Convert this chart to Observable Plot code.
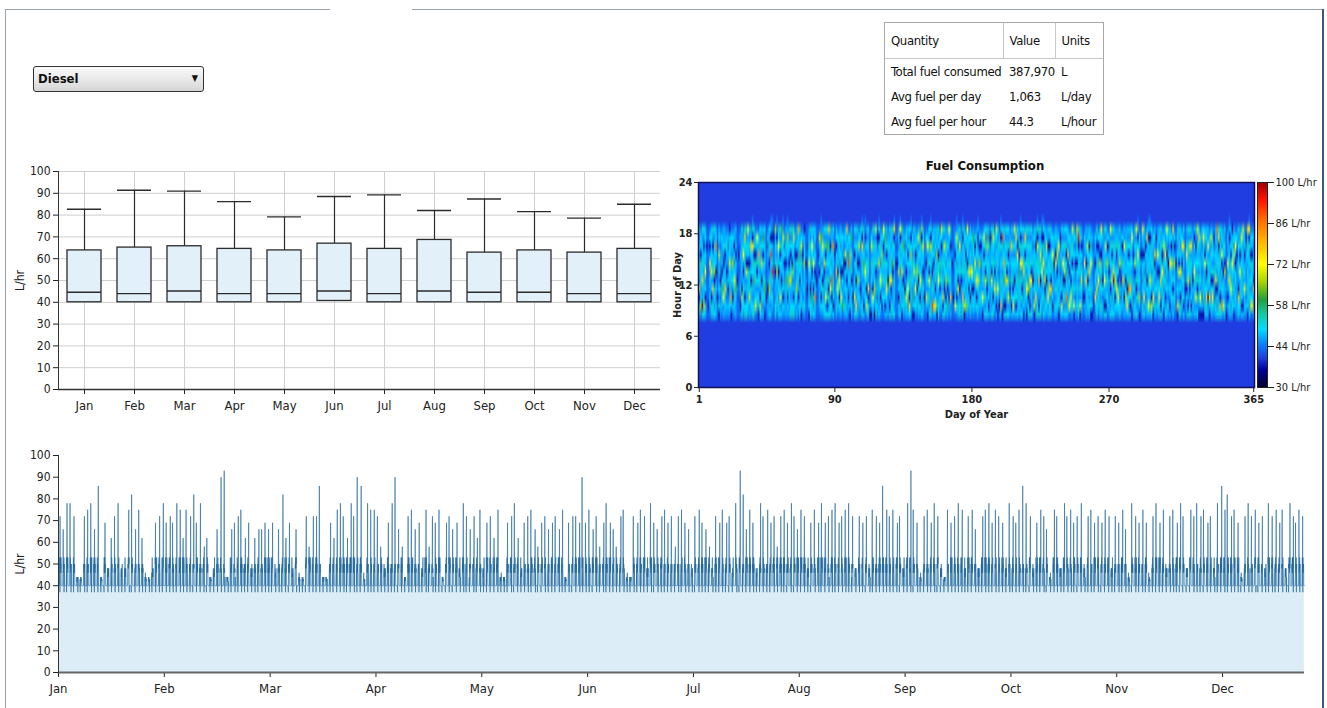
<!DOCTYPE html>
<html><head><meta charset="utf-8">
<script src="https://cdn.jsdelivr.net/npm/d3@7"></script>
<script src="https://cdn.jsdelivr.net/npm/@observablehq/plot@0.6"></script>
<style>
html,body{margin:0;padding:0;background:#fff;}
body{width:1327px;height:708px;overflow:hidden;position:relative;font-family:"DejaVu Sans Condensed","Liberation Sans",sans-serif;color:#111;}
.abs{position:absolute;}
#dropdown{left:33px;top:66px;width:169px;height:24px;border:1px solid #333;border-radius:3px;background:linear-gradient(#fbfbfb,#d6d6d6);box-sizing:content-box;}
#dropdown span{position:absolute;left:4px;top:4px;font-weight:bold;font-size:13px;}
#dropdown i{position:absolute;right:5px;top:6px;font-style:normal;font-size:9px;}
#tbl{left:884px;top:22px;width:220px;height:113px;border:1px solid #a8a8a8;box-sizing:border-box;font-size:13px;letter-spacing:-0.35px;}
#tbl table{border-collapse:collapse;width:218px;table-layout:fixed;}
#tbl td{padding:0 0 0 6px;height:25px;white-space:nowrap;overflow:visible;}
#tbl tr.h td{height:35px;border-bottom:1px solid #c8c8c8;}
#tbl col.c1{width:118px;} #tbl col.c2{width:52px;} #tbl col.c3{width:48px;}
#tbl tr.h td.d{border-right:1px solid #c8c8c8;}
#title{left:900px;width:170px;top:158px;text-align:center;font-weight:bold;font-size:13px;}
</style></head><body>
<div class="abs" style="left:5px;top:9px;width:325px;height:0;border-top:1px solid #9aa3ad"></div>
<div class="abs" style="left:412px;top:9px;width:910px;height:0;border-top:1px solid #9aa3ad"></div>
<div class="abs" style="left:5px;top:9px;width:0;height:700px;border-left:1px solid #9aa3ad"></div>
<div class="abs" style="left:1322px;top:9px;width:0;height:700px;border-left:2px solid #3b5a80"></div>
<div id="dropdown" class="abs"><span>Diesel</span><i>&#9660;</i></div>
<div id="tbl" class="abs"></div>
<div id="title" class="abs">Fuel Consumption</div>
<div id="box" class="abs" style="left:0;top:160px"></div>
<div id="heat" class="abs" style="left:660px;top:150px"></div>
<div id="legend" class="abs" style="left:1250px;top:175px"></div>
<div id="line" class="abs" style="left:0;top:440px"></div>
<script>
// ---------- data ----------
const months = ["Jan","Feb","Mar","Apr","May","Jun","Jul","Aug","Sep","Oct","Nov","Dec"];
const boxMax    = [82.7, 91.4, 91.0, 86.2, 79.2, 88.5, 89.3, 82.1, 87.4, 81.6, 78.6, 85.0];
const boxQ3     = [63.8, 65.1, 65.7, 64.5, 63.8, 66.9, 64.5, 68.6, 62.8, 63.8, 62.8, 64.5];
const boxMedian = [44.6, 44.0, 45.2, 44.0, 44.0, 45.2, 44.0, 45.2, 44.6, 44.6, 44.0, 44.0];
const boxQ1     = [40.0, 40.0, 40.0, 40.0, 40.0, 40.6, 40.0, 40.0, 40.0, 40.0, 40.0, 40.0];
const yTicks = [0,10,20,30,40,50,60,70,80,90,100];

const tableQuantity = ["Total fuel consumed","Avg fuel per day","Avg fuel per hour"];
const tableValue = ["387,970","1,063","44.3"];
const tableUnits = ["L","L/day","L/hour"];

const heatTicksX = [1,90,180,270,365];
const heatTicksY = [0,6,12,18,24];
const legendTicks = [30,44,58,72,86,100];
const lineTickHours = [0,744,1488,2232,2976,3720,4464,5208,5952,6696,7440,8184];

// colour stops of the heat map (jet-like)
const colorStops  = [30,36,40,45,50,55,60,66,72,80,88,94,100];
const colorValues = ["#000028","#00009a","#1f3de0","#0a84ff","#00dcff","#19c9a6","#23a03a","#a6d400","#ffff00","#ffb400","#ff6400","#ff1400","#a00000"];

// hourly fuel use (L/hr) for hours 8..19 of each day, one character per hour
const levelChars  = "0123456789ABCDEFGHIJK";
const levelValues = [37,40,41,42,43,44,46,48,50,53,58,62,66,69,72,75,78,82,86,90,93];
const offHourValue = 40;
const firstActiveHour = 8;
const dayCodes = [
// Jan
"980E68978691","5C8687907851","9067G8978691","8G9796870681","79086E786871","453543450531","404543453431","578687E60851","79086F786871","986G68970691",
"86970C879681","79686078I871","450543453431","0968697D6871","675705675751","578B80967851","76E797068671","687G78609761","675760678751","675095675751",
"687978F89701","07H687967851","570687C67851","6879F8680761","768B97808671","453603453431","453543403431","605965675751","98D068978691","6879706E9761","980768978G91",
// Feb
"98676D078691","6879780897E1","76D797068671","68790868G761","98676897F095","9867B8908691","5F8687907851","578680967E51","0786879H7851","8D0796879681",
"768707G68671","768797808A71","069B96879681","450543453431","675065675951","869C96079681","7687978J8075","57868K967055","453543453031","9867609786C1",
"57868D967055","79686078E871","86F796809681","7687078686B1","680978689D65","675765085751","7687B7068671","680978689C65",
// Mar
"7687C7068671","9867D8908691","98676C078691","980768978D91","678765605751","768C97808671","5706879678H1","9867089B8691","07868796D851","695765605751",
"687978C89701","453563053431","453043453441","087978E89761","98A068978691","79686078E871","869096E79681","79I860786871","453503453451","453543404431",
"578680967D51","680978689B65","68790868F761","986760G78691","86E796809681","80979687B681","8690968796G1","986E68970691","6809J8689761","80979687I681","456543403431",
// Apr
"79686G780871","578F80967851","6809F8689761","79E860786871","5A8680967851","685765075751","7968690D6871","7687078686G1","570687J67851","0786879C7851",
"796809786A71","450543454431","86E796809681","9F6708978691","7687C7068671","57868706D851","675065675791","98676897F095","706869A86871","57868E967055",
"7D8097868671","980F68978691","055543453431","07868796D851","98E068978691","069C96879681","9867609786D1","675765975051","869796G79085","6809E8689761",
// May
"5086879C7851","5786879608E1","708797868B71","768F97808671","675705679751","9067D8978691","7960E9786871","986760B78691","8697968790F5","453543053631",
"453545053431","79086D786871","8697968790E5","08676G978691","68790868B761","679065675751","79D860786871","768E97808671","8F0796879681","7687978C8075",
"07A687967851","08676D978691","687E78609761","57808C967851","796809786D71","6809E8689761","8697968790C5","79686078F871","450543453431","57D687067851","07868796E851",
// Jun
"8697E0879681","98676897D095","6J7970689761","7D6869086871","7F8097868671","0968697C6871","9867E8908691","57808A967851","5786879608D1","80G796879681",
"98606897D691","6809C8689761","7A8097868671","5706879678E1","76F797860671","453543063431","450543453451","5E8687907851","680978689D65","796F09786871",
"98606897E691","675709675751","98G768978095","0D6869786871","5C8687907851","6879780897E1","57808F967851","79086D786871","57808E967851","687078689A61",
// Jul
"578687E60851","6809F8689761","7968D9786075","578687C60851","678765670751","07E687967851","768797808F71","8697D0879681","98606897C691","708797868A71",
"675769675051","8697E0879681","980768978D91","578F80967851","7068697868D1","069E96879681","605765679751","7G8797868075","069796879K81","706869H86871",
"9067C8978691","8697F0879681","86D796809681","675065677751","70879786G671","7E8097868671","7687078686F1","708797868D71","8697968E0681","68797A609761","869796E79085",
// Aug
"869096F79681","08676D978691","768797808G71","069E96879681","980C68978691","9067F8978691","8697E0879681","675705975751","0D6869786871","76F797860671",
"98676897D095","9067G8978691","9867089D8691","57868E967055","869796F79085","7960G9786871","68790868D761","76E797860671","986F68970691","796G09786871",
"5086879E7851","675765077751","796869E06871","6879706D9761","07868796E851","675865675051","8F0796879681","768707E68671","86970D879681","86I796809681","7968690F6871",
// Sep
"5E8680967851","68F908689761","6879780897D1","0E6869786871","675765075951","6879780897G1","986768970K91","0F6869786871","6879D8680761","450546453431",
"570687E67851","7687F7068671","68790868D761","79686G780871","087978E89761","075765875751","403543453531","57F687067851","986D68970691","5786E7960851",
"796869G06871","7968697068F1","675905675751","9067E8978691","80979687F681","578687C60851","675760675751","8690968796E1","9867F8908691","86970G879681",
// Oct
"6809D8689761","687F78609761","68E908689761","986760D78691","675705975751","5786G7960851","76079786E671","68D908689761","7F8097868671","768I97808671",
"708G97868671","069796879E81","675865605751","986760D78691","8690968796F1","7687978E8075","07C687967851","453543603431","7968697068F1","86E796809681",
"675775670751","796809786G71","7E8797868075","7968F9786075","8D0796879681","07E687967851","7968690G6871","675865675051","6879706E9761","79F860786871","9067D8978691",
// Nov
"68797E609761","07868796D851","8607968F9681","7968697068E1","675765075791","706869E86871","578687D60851","8690968796F1","578687C60851","453643053431",
"0G6869786871","98676E078691","79086D786871","57868706F851","80979687D681","463043453431","7680978E8671","9067G8978691","98606897D691","70879786F671",
"685705675751","76879E868071","76F797860671","8690968796D1","069796879G81","07E687967851","075765675771","069796879F81","796869E06871","79G860786871",
// Dec
"76079786E671","07F687967851","796809786D71","68E908689761","675769675051","7960G9786871","8690968796I1","986768970F91","8H0796879681","7968690E6871",
"6F7970689761","98676D078691","053643453431","570687E67851","7968G9786075","768E97808671","687978F89701","0968697D6871","57868706E851","675765605851",
"98G068978691","68797E609761","708797868F71","7068697868D1","687F78609761","675765775051","0879786897G1","8697968790E5","5D8687907851","5F8687907851","796E09786871"
];

// ---------- derived tables ----------
const hourly = [];
const heatCells = [];
dayCodes.forEach((code, d) => {
  for (let h = 0; h < 24; h++) {
    const k = h - firstActiveHour;
    const v = (k >= 0 && k < code.length) ? levelValues[levelChars.indexOf(code[k])] : offHourValue;
    hourly.push({t: d * 24 + h, v});
    heatCells.push({day: d + 1, hour: h + 0.5, v});
  }
});
const boxData = months.map((m, i) => ({m, q1: boxQ1[i], med: boxMedian[i], q3: boxQ3[i], max: boxMax[i]}));

const FONT = '"DejaVu Sans Condensed","Liberation Sans",sans-serif';
const colorScale = {type: "linear", domain: colorStops, range: colorValues, clamp: true};

// ---------- table ----------
{
  let html = '<table><colgroup><col class="c1"><col class="c2"><col class="c3"></colgroup>';
  html += '<tr class="h"><td class="d">Quantity</td><td class="d">Value</td><td>Units</td></tr>';
  tableQuantity.forEach((q, i) => {
    html += `<tr><td>${q}</td><td>${tableValue[i]}</td><td>${tableUnits[i]}</td></tr>`;
  });
  html += '</table>';
  document.getElementById("tbl").innerHTML = html;
}

// ---------- monthly box plot ----------
document.getElementById("box").append(Plot.plot({
  width: 670, height: 260, marginLeft: 58, marginRight: 10, marginTop: 11, marginBottom: 31,
  style: {fontFamily: FONT, fontSize: "12px", color: "#222", background: "transparent", overflow: "visible"},
  x: {type: "band", domain: months, padding: 0, label: null},
  y: {domain: [0, 100], label: null},
  marks: [
    Plot.gridY(yTicks, {stroke: "#cfcfcf", strokeOpacity: 1}),
    Plot.gridX(months, {stroke: "#cfcfcf", strokeOpacity: 1}),
    Plot.ruleX(boxData, {x: "m", y1: "q3", y2: "max", stroke: "#2b2b2b", strokeWidth: 1.2}),
    Plot.tickY(boxData, {x: "m", y: "max", stroke: "#2b2b2b", strokeWidth: 1.4, insetLeft: 8, insetRight: 8}),
    Plot.barY(boxData, {x: "m", y1: "q1", y2: "q3", fill: "#e1f0f9", stroke: "#2b2b2b", strokeWidth: 1.3, insetLeft: 8, insetRight: 8}),
    Plot.tickY(boxData, {x: "m", y: "med", stroke: "#2b2b2b", strokeWidth: 1.4, insetLeft: 8, insetRight: 8}),
    Plot.axisY({ticks: yTicks, tickSize: 5, tickPadding: 3, fontSize: 12, label: "L/hr", labelAnchor: "center", labelOffset: 43, labelArrow: "none"}),
    Plot.axisX({tickSize: 5, tickPadding: 6, fontSize: 13, label: null}),
    Plot.ruleY([0], {stroke: "#333", strokeWidth: 1.5}),
    Plot.frame({anchor: "left", stroke: "#333"})
  ]
}));

// ---------- heat map ----------
document.getElementById("heat").append(Plot.plot({
  width: 610, height: 280, marginLeft: 38, marginRight: 16, marginTop: 32, marginBottom: 43,
  style: {fontFamily: FONT, fontSize: "11px", color: "#222", background: "transparent", overflow: "visible"},
  x: {domain: [0.5, 365.5], label: null},
  y: {domain: [0, 24], label: null},
  color: colorScale,
  marks: [
    Plot.raster(heatCells, {x: "day", y: "hour", fill: "v", x1: 0.5, x2: 365.5, y1: 0, y2: 24, width: 365, height: 24}),
    Plot.frame({stroke: "#10105a", strokeWidth: 1.5}),
    Plot.axisX({ticks: heatTicksX, tickSize: 5, tickPadding: 3, fontWeight: "bold", label: "Day of Year", labelAnchor: "center", labelOffset: 30, labelArrow: "none"}),
    Plot.axisY({ticks: heatTicksY, tickSize: 4, tickPadding: 2, fontWeight: "bold", label: "Hour of Day", labelAnchor: "center", labelOffset: 25, labelArrow: "none"})
  ]
}));

// ---------- colour legend ----------
document.getElementById("legend").append(Plot.plot({
  width: 77, height: 220, marginLeft: 7, marginRight: 60, marginTop: 7, marginBottom: 8,
  style: {fontFamily: FONT, fontSize: "11px", color: "#222", background: "transparent", overflow: "visible"},
  x: {domain: [0, 1], axis: null},
  y: {domain: [30, 100], axis: null},
  color: colorScale,
  marks: [
    Plot.raster({fill: (x, y) => y, x1: 0, x2: 1, y1: 30, y2: 100, width: 1, height: 205}),
    Plot.frame({stroke: "#222"}),
    Plot.axisY({anchor: "right", ticks: legendTicks, tickSize: 6, tickPadding: 2, tickFormat: d => `${d} L/hr`, label: null})
  ]
}));

// ---------- hourly time series ----------
document.getElementById("line").append(Plot.plot({
  width: 1327, height: 268, marginLeft: 58, marginRight: 23, marginTop: 15, marginBottom: 36,
  style: {fontFamily: FONT, fontSize: "12px", color: "#222", background: "transparent", overflow: "visible"},
  x: {domain: [0, 8760], label: null},
  y: {domain: [0, 100], label: null},
  marks: [
    Plot.areaY(hourly, {x: "t", y: "v", fill: "#dcedf7"}),
    Plot.areaY(hourly, {x: "t", y1: offHourValue, y2: "v", fill: "#98cdea"}),
    Plot.lineY(hourly, {x: "t", y: "v", stroke: "#22669c", strokeWidth: 0.6}),
    Plot.axisY({ticks: yTicks, tickSize: 5, tickPadding: 3, fontSize: 12, label: "L/hr", labelAnchor: "center", labelOffset: 43, labelArrow: "none"}),
    Plot.axisX({ticks: lineTickHours, tickFormat: d => months[lineTickHours.indexOf(d)], tickSize: 5, tickPadding: 6, fontSize: 13, label: null}),
    Plot.ruleY([0], {stroke: "#666", strokeWidth: 2}),
    Plot.frame({anchor: "left", stroke: "#333"})
  ]
}));
</script>
</body></html>
